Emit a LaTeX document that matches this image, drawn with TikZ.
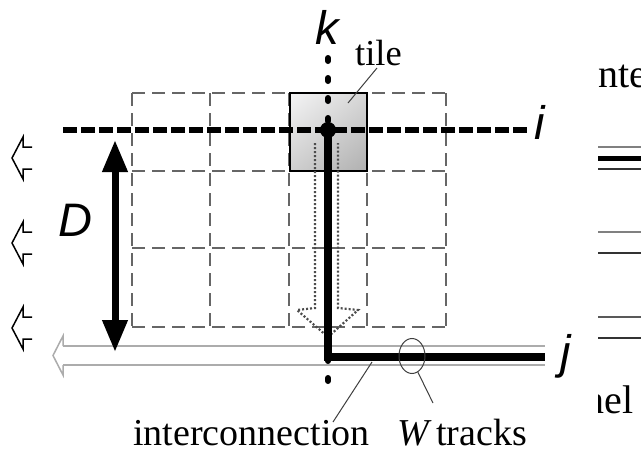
\documentclass[tikz,border=0pt]{standalone}
\usepackage{fontspec}
\setmainfont{Liberation Serif}
\newfontfamily\labsans{Liberation Sans}
\usetikzlibrary{arrows.meta,shapes.geometric,shadings}
\begin{document}
\begin{tikzpicture}[x=1pt,y=-1pt,
  gridline/.style={draw=gray!80!black, line width=2pt, dash pattern=on 13pt off 7pt},
  tilebox/.style={draw=black, line width=2pt},
  dotline/.style={line width=6pt, line cap=round, dash pattern=on 3pt off 17pt},
  dashline/.style={line width=6pt, dash pattern=on 14pt off 4pt},
  hollowdot/.style={draw=gray!60!black, line width=2.2pt, dash pattern=on 2pt off 2pt},
  wire/.style={line width=8pt, line join=miter},
  chan/.style={draw=gray!65, line width=2.8pt},
  leader/.style={draw=gray!50!black, line width=1pt},
  mathlbl/.style={font=\labsans\itshape\fontsize{47}{49}\selectfont, inner sep=0pt},
  serlbl/.style={font=\fontsize{38}{40}\selectfont, inner sep=0pt, anchor=base west},
  leftarr/.style={draw=black, line width=1.5pt},
  sideline/.style={line width=2pt}
]
\useasboundingbox (0,0) rectangle (641,453);
\fill[white] (0,0) rectangle (641,453);

% tile fill
\shade[upper left=blue!4!gray!8, lower right=gray!62, upper right=gray!32, lower left=gray!38] (290,93) rectangle (367,171);

% grid
\foreach \x in {132,210,289,367,446} \draw[gridline] (\x,93) -- (\x,327);
\foreach \y in {93,171,248,327} \draw[gridline] (132,\y) -- (446,\y);

% tile border
\node[tilebox, minimum width=77pt, minimum height=78pt, inner sep=0pt] (tile) at (328.5,132) {};

% channel
\coordinate (chL) at (63,355.5);
\draw[chan] (63,346) -- (545,346);
\draw[chan] (63,365) -- (545,365);
\draw[draw=gray!65, line width=1.5pt] (63,346) -- (63,336) -- (53,355.5) -- (63,375) -- (63,365);

% i line
\coordinate (iL) at (63,130);
\coordinate (iR) at (527,130);
\draw[dashline] (iL) -- (iR);

% k line
\coordinate (kT) at (328,58);
\coordinate (kB) at (328,395);
\draw[dotline] (kT) -- (kB);

% dotted hollow arrow
\draw[hollowdot] (315,143) -- (315,308) -- (297,310) -- (328,337) -- (358,310) -- (338,308) -- (338,143);

% wire
\node[circle, fill=black, minimum size=16pt, inner sep=0pt] (dot) at (328,130) {};
\coordinate (corner) at (328,357);
\coordinate (wend) at (545,357);
\draw[wire] (dot.center) -- (corner) -- (wend);

% D arrow
\coordinate (dT) at (115,140);
\coordinate (dB) at (115,352);
\draw[line width=7pt, {Triangle[length=32pt,width=24pt]}-{Triangle[length=32pt,width=24pt]}] (dT) -- (dB);

% left hollow arrows
\foreach \y in {158,243,328}
  \draw[leftarr] (32,\y-11) -- (23,\y-11) -- (23,\y-21) -- (12,\y) -- (23,\y+21) -- (23,\y+11) -- (32,\y+11);

% labels
\node[mathlbl] (k) at (327,27) {k};
\node[mathlbl] (i) at (540,122) {i};
\node[mathlbl] (j) at (566,356) {j};
\node[mathlbl] (D) at (75,220) {D};

\node[serlbl, font=\fontsize{36.5}{38}\selectfont] (tilelbl) at (355,65) {tile};
\node[serlbl] (inter) at (133,445) {interconnection};
\node[serlbl] (wtr) at (397,445) {\textit{W}\hspace{0.12em}tracks};

% leaders
\coordinate (tl1) at (377,68);
\coordinate (tl2) at (348,103);
\draw[leader] (tl1) -- (tl2);
\coordinate (in1) at (333,422);
\coordinate (in2) at (372,362);
\draw[leader] (in1) -- (in2);
\node[draw=gray!50!black, line width=1pt, ellipse, minimum width=26pt, minimum height=35pt, inner sep=0pt] (ell) at (412,356) {};
\coordinate (w2) at (433,403);
\draw[leader] (ell.-70) -- (w2);

% right edge remnants (clipped, as in the reference)
\begin{scope}
\clip (598,0) rectangle (641,453);
\node[serlbl, font=\fontsize{40}{42}\selectfont] (nte) at (598,87) {nte};
\node[serlbl, font=\fontsize{40}{42}\selectfont, anchor=base east] (nel) at (634,413) {nel};
\draw[sideline, gray] (598,147) -- (641,147);
\draw[line width=5pt] (598,158) -- (641,158);
\draw[sideline, black!80] (598,169) -- (641,169);
\draw[sideline, gray] (598,232) -- (641,232);
\draw[sideline, black!80] (598,253) -- (641,253);
\draw[sideline, gray!70!black] (598,317) -- (641,317);
\draw[sideline, black!80] (598,338) -- (641,338);
\end{scope}
\end{tikzpicture}
\end{document}
